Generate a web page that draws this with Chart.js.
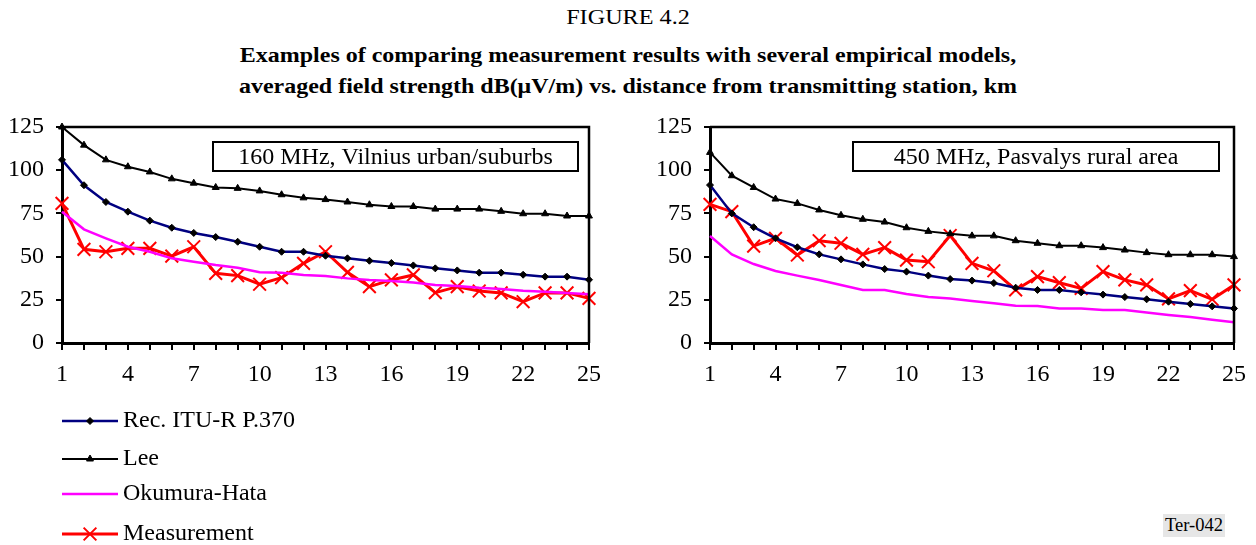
<!DOCTYPE html>
<html>
<head>
<meta charset="utf-8">
<script src="https://cdn.jsdelivr.net/npm/chart.js@4/dist/chart.umd.min.js"></script>
<style>
  body { margin: 0; width: 1256px; height: 545px; background: #fff; position: relative; overflow: hidden; font-family: "Liberation Serif", "Times New Roman", serif; color: #000; }
  .t { position: absolute; left: 0; width: 1256px; text-align: center; white-space: nowrap; }
  #fig { top: 4px; font-size: 22px; transform: scaleX(1.1); }
  #l1 { top: 42px; font-size: 22px; font-weight: bold; transform: scaleX(1.09); }
  #l2 { top: 73px; font-size: 22px; font-weight: bold; transform: scaleX(1.09); }
  #ter { position: absolute; left: 1163px; top: 514px; padding: 1px 2px; background: #e6e6e6; font-size: 18.5px; }
  canvas { position: absolute; }
</style>
</head>
<body>
<div class="t" id="fig">FIGURE 4.2</div>
<div class="t" id="l1">Examples of comparing measurement results with several empirical models,</div>
<div class="t" id="l2">averaged field strength dB(μV/m) vs. distance from transmitting station, km</div>
<canvas id="left" width="625" height="445" style="left:0;top:100px"></canvas>
<canvas id="right" width="616" height="300" style="left:640px;top:100px"></canvas>
<div id="ter">Ter-042</div>
<script>
// distance from transmitting station, km
const distance = [1, 2, 3, 4, 5, 6, 7, 8, 9, 10, 11, 12, 13, 14, 15, 16, 17, 18, 19, 20, 21, 22, 23, 24, 25];
const yTicks = [0, 25, 50, 75, 100, 125];

// 160 MHz, Vilnius urban/suburbs
const vilniusItu = [106, 91.3, 81.6, 76, 70.8, 66.7, 63.7, 61.3, 58.6, 55.7, 52.8, 52.8, 50.5, 49, 47.6, 46.3, 44.9, 43.2, 42, 40.7, 40.7, 39.5, 38.4, 38.4, 36.6];
const vilniusLee = [125, 114.5, 106, 102, 99, 95, 92.5, 90, 89.5, 88, 85.8, 84, 83, 81.6, 80, 79, 79, 77.5, 77.5, 77.5, 76.2, 74.8, 74.8, 73.5, 73.5];
const vilniusHata = [76, 65.8, 60.6, 55.7, 52.8, 49, 47, 45.1, 43.6, 40.9, 40.7, 39.4, 38.8, 37.4, 36.5, 35.9, 35, 33.6, 33, 32, 31.3, 30.3, 29.7, 29, 28.2];
const vilniusMeas = [80.8, 54.2, 52.8, 54.8, 54.8, 50.3, 55.7, 40.3, 39, 34, 37.8, 46.1, 52.8, 40.9, 32.6, 36.5, 39.4, 29.1, 32.6, 30.1, 29, 23.9, 29, 29, 25.8];

// 450 MHz, Pasvalys rural area
const pasvalysItu = [91.4, 75, 67, 60.6, 55.4, 51.3, 48.4, 45.5, 42.8, 41.3, 39, 37, 36.1, 34.7, 32, 30.7, 30.7, 29.3, 28, 26.6, 25.3, 23.9, 22.6, 21.2, 20];
const pasvalysLee = [110.3, 96.8, 90, 83.3, 80.8, 77, 73.9, 71.6, 70, 66.7, 64.6, 63.2, 62, 62, 59.2, 57.7, 56.3, 56.3, 55.2, 53.8, 52.3, 51.1, 51.1, 51.1, 50];
const pasvalysHata = [61.9, 51.3, 45.7, 41.7, 39, 36.5, 33.6, 30.7, 30.7, 28.4, 26.6, 25.7, 24.3, 23, 21.6, 21.4, 20, 20, 19.1, 19.1, 17.6, 16.2, 15, 13.5, 12];
const pasvalysMeas = [80.2, 76, 56.1, 60.6, 50.9, 59.2, 57.7, 51.3, 55.2, 48, 47, 62.2, 46.1, 41.8, 30.7, 38.4, 34.9, 31.6, 41.3, 36.5, 33.6, 25.5, 30.3, 25.3, 33.6];

const seriesNames = ['Rec. ITU-R P.370', 'Lee', 'Okumura-Hata', 'Measurement'];

const FONT = "'Liberation Serif', 'Times New Roman', serif";

const styles = [
  { borderColor: '#000080', borderWidth: 2.5, pointStyle: 'rectRot', pointRadius: 3.5, pointBackgroundColor: '#000', pointBorderColor: '#000', pointBorderWidth: 1 },
  { borderColor: '#000', borderWidth: 2, pointStyle: 'triangle', pointRadius: 4, pointBackgroundColor: '#000', pointBorderColor: '#000', pointBorderWidth: 1 },
  { borderColor: '#ff00ff', borderWidth: 2.5, pointRadius: 0 },
  { borderColor: '#ff0000', borderWidth: 3, pointStyle: 'crossRot', pointRadius: 9, pointBorderColor: '#ff0000', pointBorderWidth: 2 }
];

function makeDatasets(series) {
  return series.map((vals, i) => Object.assign({
    label: seriesNames[i],
    data: vals,
    tension: 0,
    clip: false,
    pointHoverRadius: 0
  }, styles[i]));
}

// frame + caption box
const framePlugin = {
  id: 'frame',
  afterDraw(chart, args, opts) {
    const ctx = chart.ctx;
    const a = chart.chartArea;
    ctx.save();
    ctx.strokeStyle = '#000';
    ctx.lineWidth = 2.5;
    ctx.beginPath();
    ctx.moveTo(a.left, a.top);
    ctx.lineTo(a.right, a.top);
    ctx.lineTo(a.right, a.bottom);
    ctx.stroke();

    // caption box
    const bw = opts.boxWidth;
    const bx = a.right - opts.boxRight - bw;
    const by = a.top + 15;
    ctx.fillStyle = '#fff';
    ctx.fillRect(bx, by, bw, 29);
    ctx.lineWidth = 2;
    ctx.strokeRect(bx, by, bw, 29);
    ctx.fillStyle = '#000';
    ctx.font = '24px ' + FONT;
    ctx.textAlign = 'center';
    ctx.textBaseline = 'middle';
    ctx.fillText(opts.caption, bx + bw / 2, by + 15.5);
    ctx.restore();
  }
};

// legend under the left chart
const legendPlugin = {
  id: 'sideLegend',
  afterDraw(chart, args, opts) {
    if (!opts.show) return;
    const ctx = chart.ctx;
    const rows = [321, 359, 394, 434];
    ctx.save();
    chart.data.datasets.forEach((ds, i) => {
      const y = rows[i];
      ctx.strokeStyle = ds.borderColor;
      ctx.lineWidth = ds.borderWidth;
      ctx.beginPath();
      ctx.moveTo(62, y);
      ctx.lineTo(118, y);
      ctx.stroke();
      if (ds.pointRadius > 0) {
        ctx.fillStyle = ds.pointBackgroundColor || ds.pointBorderColor;
        ctx.strokeStyle = ds.pointBorderColor;
        ctx.lineWidth = ds.pointBorderWidth;
        Chart.helpers.drawPoint(ctx, { pointStyle: ds.pointStyle, radius: ds.pointRadius, borderWidth: ds.pointBorderWidth, rotation: 0 }, 90, y);
      }
      ctx.fillStyle = '#000';
      ctx.font = '24px ' + FONT;
      ctx.textAlign = 'left';
      ctx.textBaseline = 'middle';
      ctx.fillText(ds.label, 123, y);
    });
    ctx.restore();
  }
};

function makeChart(id, series, caption, yWidth, pad, boxWidth, boxRight, showLegend) {
  return new Chart(document.getElementById(id), {
    type: 'line',
    data: { labels: distance, datasets: makeDatasets(series) },
    plugins: [framePlugin, legendPlugin],
    options: {
      responsive: false,
      animation: false,
      events: [],
      layout: { padding: pad },
      plugins: {
        legend: { display: false },
        tooltip: { enabled: false },
        frame: { caption: caption, boxWidth: boxWidth, boxRight: boxRight },
        sideLegend: { show: showLegend }
      },
      scales: {
        x: {
          type: 'category',
          offset: false,
          afterFit(s) { s.height = 50; },
          grid: { drawOnChartArea: false, color: '#000', lineWidth: 2, tickLength: 7 },
          border: { color: '#000', width: 3 },
          ticks: {
            autoSkip: false,
            maxRotation: 0,
            padding: 10,
            color: '#000',
            font: { family: FONT, size: 24 },
            callback: function (value, index) {
              return index % 3 === 0 ? this.getLabelForValue(value) : '';
            }
          }
        },
        y: {
          min: yTicks[0],
          max: yTicks[yTicks.length - 1],
          afterFit(s) { s.width = yWidth; },
          afterBuildTicks(s) { s.ticks = yTicks.map(v => ({ value: v })); },
          grid: { drawOnChartArea: false, color: '#000', lineWidth: 2, tickLength: 6 },
          border: { color: '#000', width: 3 },
          ticks: {
            padding: 12,
            color: '#000',
            font: { family: FONT, size: 24 }
          }
        }
      }
    }
  });
}

makeChart('left', [vilniusItu, vilniusLee, vilniusHata, vilniusMeas], '160 MHz, Vilnius urban/suburbs',
  62, { top: 27, right: 36, left: 0, bottom: 152 }, 365, 11, true);
makeChart('right', [pasvalysItu, pasvalysLee, pasvalysHata, pasvalysMeas], '450 MHz, Pasvalys rural area',
  70, { top: 27, right: 18, left: 0, bottom: 7 }, 366, 15, false);
</script>
</body>
</html>
